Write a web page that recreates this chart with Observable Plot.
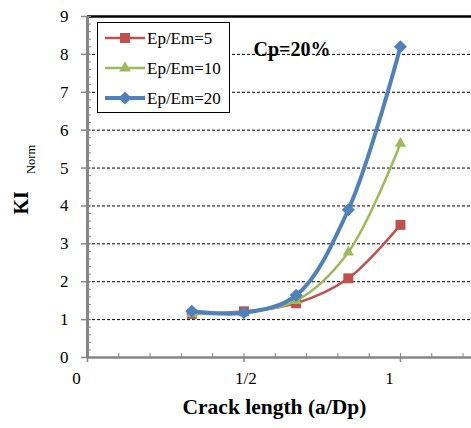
<!DOCTYPE html>
<html><head><meta charset="utf-8">
<script src="https://cdn.jsdelivr.net/npm/d3@7"></script>
<script src="https://cdn.jsdelivr.net/npm/@observablehq/plot@0.6"></script>
<style>
body{margin:0;background:#fff;}
#wrap{position:relative;width:471px;height:428px;overflow:hidden;font-family:"Liberation Serif",serif;}
#legend{position:absolute;left:97px;top:22px;}
</style></head><body><div id="wrap"></div>
<script>
// ---- data ----
const crackLength = [1/3, 1/2, 2/3, 5/6, 1];
const seriesNames = ["Ep/Em=5", "Ep/Em=10", "Ep/Em=20"];
const kiEp5  = [1.15, 1.22, 1.43, 2.09, 3.5];
const kiEp10 = [1.15, 1.20, 1.50, 2.78, 5.65];
const kiEp20 = [1.22, 1.18, 1.64, 3.90, 8.2];
const yTicks = [0, 1, 2, 3, 4, 5, 6, 7, 8, 9];
const gridY = [1, 2, 3, 4, 5, 6, 7, 8];
const yMinorTicks = d3.range(0, 9.001, 0.2);
const xMajorTicks = [0, 0.5, 1];
const xTickLabels = ["0", "1/2", "1"];
const xMinorTicks = d3.range(0, 1.25, 0.1);
const xTitle = "Crack length (a/Dp)";
const yTitleMain = "KI";
const yTitleSub = "Norm";
const annotation = "Cp=20%";

const colors = ["#C0504D", "#9BBB59", "#4F81BD"];
const widths = [2.5, 2.5, 4];
const seriesValues = [kiEp5, kiEp10, kiEp20];

const rows = seriesValues.map((vals, i) => crackLength.map((x, j) => ({x, y: vals[j], s: seriesNames[i]})));
const labelOf = d => xTickLabels[xMajorTicks.indexOf(d)];
const font = "'Liberation Serif', serif";

const marks = [
  Plot.ruleY(gridY, {stroke: "black", strokeWidth: 1, strokeDasharray: "3,2"}),
  Plot.ruleY([9], {stroke: "black", strokeWidth: 2.5}),
  // y axis
  Plot.axisY({ticks: yTicks, tickSize: 6, tickPadding: 13, fontSize: 17, stroke: "#868686", strokeWidth: 1.5, label: null}),
  Plot.axisY({ticks: yMinorTicks, tickSize: -4, tickFormat: () => "", stroke: "#868686", strokeWidth: 1, label: null}),
  // x axis
  Plot.axisX({ticks: xMinorTicks, tickSize: -4, tickFormat: () => "", stroke: "#868686", strokeWidth: 1, label: null}),
  Plot.axisX({ticks: xMajorTicks, tickSize: 5, tickFormat: () => "", stroke: "#868686", strokeWidth: 1.5, label: null}),
  Plot.axisX({ticks: [0, 1], tickSize: 0, tickPadding: 14, dx: -11, tickFormat: labelOf, fontSize: 17, label: null}),
  Plot.axisX({ticks: [0.5], tickSize: 0, tickPadding: 14, dx: 2, tickFormat: labelOf, fontSize: 17, label: null}),
  Plot.ruleY([0], {stroke: "#868686", strokeWidth: 2.5}),
  Plot.ruleX([0], {stroke: "#868686", strokeWidth: 3}),
];
const symbols = [{symbol: "square", r: 5.6, rotate: 0}, {symbol: "triangle", r: 4.2, rotate: 0}, {symbol: "square", r: 5.2, rotate: 45}];
rows.forEach((data, i) => {
  marks.push(Plot.line(data, {x: "x", y: "y", stroke: colors[i], strokeWidth: widths[i], curve: "catmull-rom"}));
  marks.push(Plot.dot(data, {x: "x", y: "y", fill: colors[i], stroke: "none", symbol: symbols[i].symbol, r: symbols[i].r, rotate: symbols[i].rotate}));
});
marks.push(
  Plot.text([annotation], {frameAnchor: "top-left", dx: 166, dy: 25, textAnchor: "start", fontSize: 20, fontWeight: "bold", fill: "black"}),
  Plot.text([xTitle], {frameAnchor: "bottom", dx: -5, dy: 56, fontSize: 21.5, fontWeight: "bold", fill: "black"}),
  Plot.text([yTitleMain], {frameAnchor: "left", dx: -66, dy: 27.5, rotate: -90, fontSize: 20, fontWeight: "bold", fill: "black"}),
  Plot.text([yTitleSub], {frameAnchor: "left", dx: -57, dy: -13, rotate: -90, fontSize: 12.5, fill: "black"})
);

const chart = Plot.plot({
  width: 471, height: 428,
  marginTop: 16, marginLeft: 87, marginRight: 0, marginBottom: 71,
  x: {domain: [0, 1.227]},
  y: {domain: [0, 9]},
  style: {fontFamily: font, background: "white", color: "black"},
  marks
});
const wrap = document.getElementById("wrap");
wrap.appendChild(chart);

// ---- legend ----
const lw = 132, lh = 90;
const leg = d3.select(wrap).append("svg").attr("id", "legend").attr("width", lw + 1).attr("height", lh + 1)
  .style("font-family", "'Liberation Serif', serif");
leg.append("rect").attr("x", 0.5).attr("y", 0.5).attr("width", lw).attr("height", lh).attr("fill", "white").attr("stroke", "black").attr("stroke-width", 1);
const legSym = [d3.symbol(d3.symbolSquare, 100), d3.symbol(d3.symbolTriangle, 60), d3.symbol(d3.symbolSquare, 85)];
seriesNames.forEach((name, i) => {
  const cy = 16 + i * 30;
  const g = leg.append("g");
  g.append("line").attr("x1", 8).attr("x2", 48).attr("y1", cy).attr("y2", cy).attr("stroke", colors[i]).attr("stroke-width", widths[i]);
  g.append("path").attr("d", legSym[i]()).attr("fill", colors[i]).attr("transform", `translate(28,${cy}) rotate(${symbols[i].rotate})`);
  g.append("text").attr("x", 50).attr("y", cy).attr("dy", "0.35em")
    .style("font-family", "'Liberation Serif', serif").style("font-size", "17px").text(name);
});
</script></body></html>
